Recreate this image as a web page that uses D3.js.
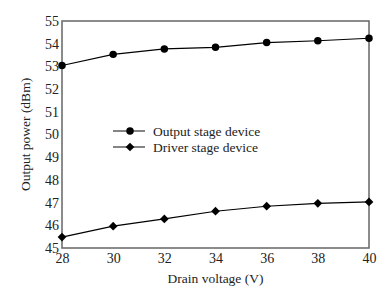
<!DOCTYPE html>
<html><head><meta charset="utf-8">
<script src="https://cdn.jsdelivr.net/npm/d3@7"></script>
<style>body{margin:0;background:#fff;} text{font-family:"Liberation Serif","Times New Roman",serif;fill:#222;}</style>
</head><body><svg id="c" width="392" height="292"></svg>
<script>
const voltages = [28, 30, 32, 34, 36, 38, 40];
const outputStage = [53.04, 53.53, 53.77, 53.84, 54.05, 54.13, 54.24];
const driverStage = [45.48, 45.96, 46.28, 46.62, 46.84, 46.97, 47.03];
const xTicks = [28, 30, 32, 34, 36, 38, 40];
const yTicks = [45, 46, 47, 48, 49, 50, 51, 52, 53, 54, 55];
const seriesNames = ["Output stage device", "Driver stage device"];

const svg = d3.select("#c");
const L = 62, R = 369, T = 21, B = 248;
const x = d3.scaleLinear().domain([28, 40]).range([L, R]);
const y = d3.scaleLinear().domain([45, 55]).range([B, T]);

const xa = svg.append("g").attr("transform", `translate(0,${B})`)
  .call(d3.axisBottom(x).tickValues(xTicks).tickSize(0).tickPadding(5));
const ya = svg.append("g").attr("transform", `translate(${L},0)`)
  .call(d3.axisLeft(y).tickValues(yTicks).tickSize(0).tickPadding(3));
[xa, ya].forEach(a => { a.attr("font-family", null); a.select(".domain").remove(); a.selectAll("text").style("font-size", "14px").attr("fill", "#222").style("font-family", "'Liberation Serif',serif"); });

svg.append("rect").attr("x", L).attr("y", T).attr("width", R - L).attr("height", B - T)
  .attr("fill", "none").attr("stroke", "#666").attr("stroke-width", 1.5);

const line = d3.line().x((d, i) => x(voltages[i])).y(d => y(d));
const circ = d3.symbol().type(d3.symbolCircle).size(44);
const diam = d3.symbol().type(d3.symbolSquare).size(38);

function drawSeries(vals, sym, rot) {
  svg.append("path").datum(vals).attr("d", line).attr("fill", "none").attr("stroke", "#000").attr("stroke-width", 1.2);
  svg.selectAll(null).data(vals).enter().append("path")
    .attr("d", sym).attr("transform", (d, i) => `translate(${x(voltages[i])},${y(d)}) rotate(${rot})`).attr("fill", "#000");
}
drawSeries(outputStage, circ, 0);
drawSeries(driverStage, diam, 45);

// legend
const leg = [[seriesNames[0], circ, 131, 0], [seriesNames[1], diam, 147, 45]];
leg.forEach(([name, sym, ly, rot]) => {
  svg.append("line").attr("x1", 113).attr("x2", 145).attr("y1", ly).attr("y2", ly).attr("stroke", "#333").attr("stroke-width", 1.2);
  svg.append("path").attr("d", sym).attr("transform", `translate(130,${ly}) rotate(${rot})`).attr("fill", "#000");
  svg.append("text").attr("x", 153).attr("y", ly + 4.5).style("font-size", "13.5px").text(name);
});

svg.append("text").attr("x", (L + R) / 2).attr("y", 283).attr("text-anchor", "middle").style("font-size", "13.5px").text("Drain voltage (V)");
svg.append("text").attr("transform", `translate(30,${(T + B) / 2}) rotate(-90)`).attr("text-anchor", "middle").style("font-size", "13.5px").text("Output power (dBm)");
</script></body></html>
